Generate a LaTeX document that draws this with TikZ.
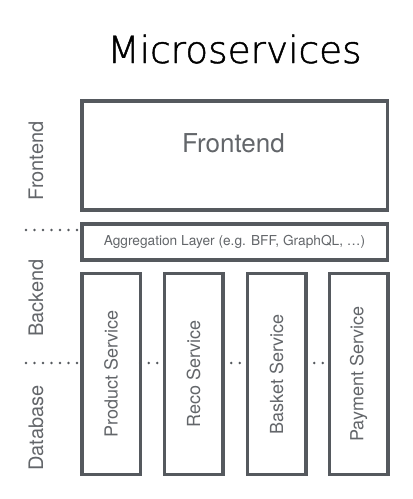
\documentclass[tikz,border=0pt]{standalone}
\usepackage{fontspec}
\setmainfont{TeX Gyre Heros}
\newfontfamily\titlefont[FakeBold=1.2]{DejaVu Sans ExtraLight}
\definecolor{boxgray}{HTML}{55595E}
\definecolor{txtgray}{HTML}{63666A}
\begin{document}
\begin{tikzpicture}[x=1pt,y=-1pt,
  box/.style={draw=boxgray, line width=3.5pt, fill=white, inner sep=0pt, outer sep=0pt},
  svc/.style={box, minimum width=58.5pt, minimum height=200.75pt},
  svclabel/.style={text=txtgray, font=\fontsize{18}{20}\selectfont, rotate=90},
  sidelabel/.style={text=txtgray, font=\fontsize{20}{22}\selectfont, rotate=90, anchor=base},
  dotline/.style={draw=boxgray, line width=2.8pt, line cap=round, dash pattern=on 0pt off 8.5pt}]
\useasboundingbox (0,0) rectangle (413,499);
\node[anchor=base, font=\titlefont\fontsize{37.4}{40}\selectfont] (title) at (234.5,63) {Microservices};
\node[box, minimum width=305.5pt, minimum height=109pt] (front) at (234.5,155.5) {};
\node[anchor=base, text=txtgray, font=\fontsize{26}{28}\selectfont] (frontlabel) at (233.5,152) {Frontend};
\node[box, minimum width=305.5pt, minimum height=36pt, text=txtgray, font=\fontsize{13.7}{15}\selectfont] (agg) at (234.5,242) {Aggregation Layer (e.g. BFF, GraphQL, \ldots)};
\node[svc] (prod) at (111,374.1) {};
\node[svc] (reco) at (193.5,374.1) {};
\node[svc] (bask) at (276.5,374.1) {};
\node[svc] (pay) at (358.5,374.1) {};
\node[svclabel] at (prod.center) {Product Service};
\node[svclabel] at (reco.center) {Reco Service};
\node[svclabel] at (bask.center) {Basket Service};
\node[svclabel] at (pay.center) {Payment Service};
\node[sidelabel] (lfront) at (43,161) {Frontend};
\node[sidelabel] (lback) at (43,298) {Backend};
\node[sidelabel] (ldb) at (43,428) {Database};
\coordinate (d1) at (26,230);
\coordinate (d2) at (26,363);
\draw[dotline] (d1) -- (d1 -| agg.west);
\draw[dotline] (d2) -- (d2 -| prod.west);
\draw[dotline] (d2 -| prod.east) -- (d2 -| reco.west);
\draw[dotline] (d2 -| reco.east) -- (d2 -| bask.west);
\draw[dotline] (d2 -| bask.east) -- (d2 -| pay.west);
\end{tikzpicture}
\end{document}
